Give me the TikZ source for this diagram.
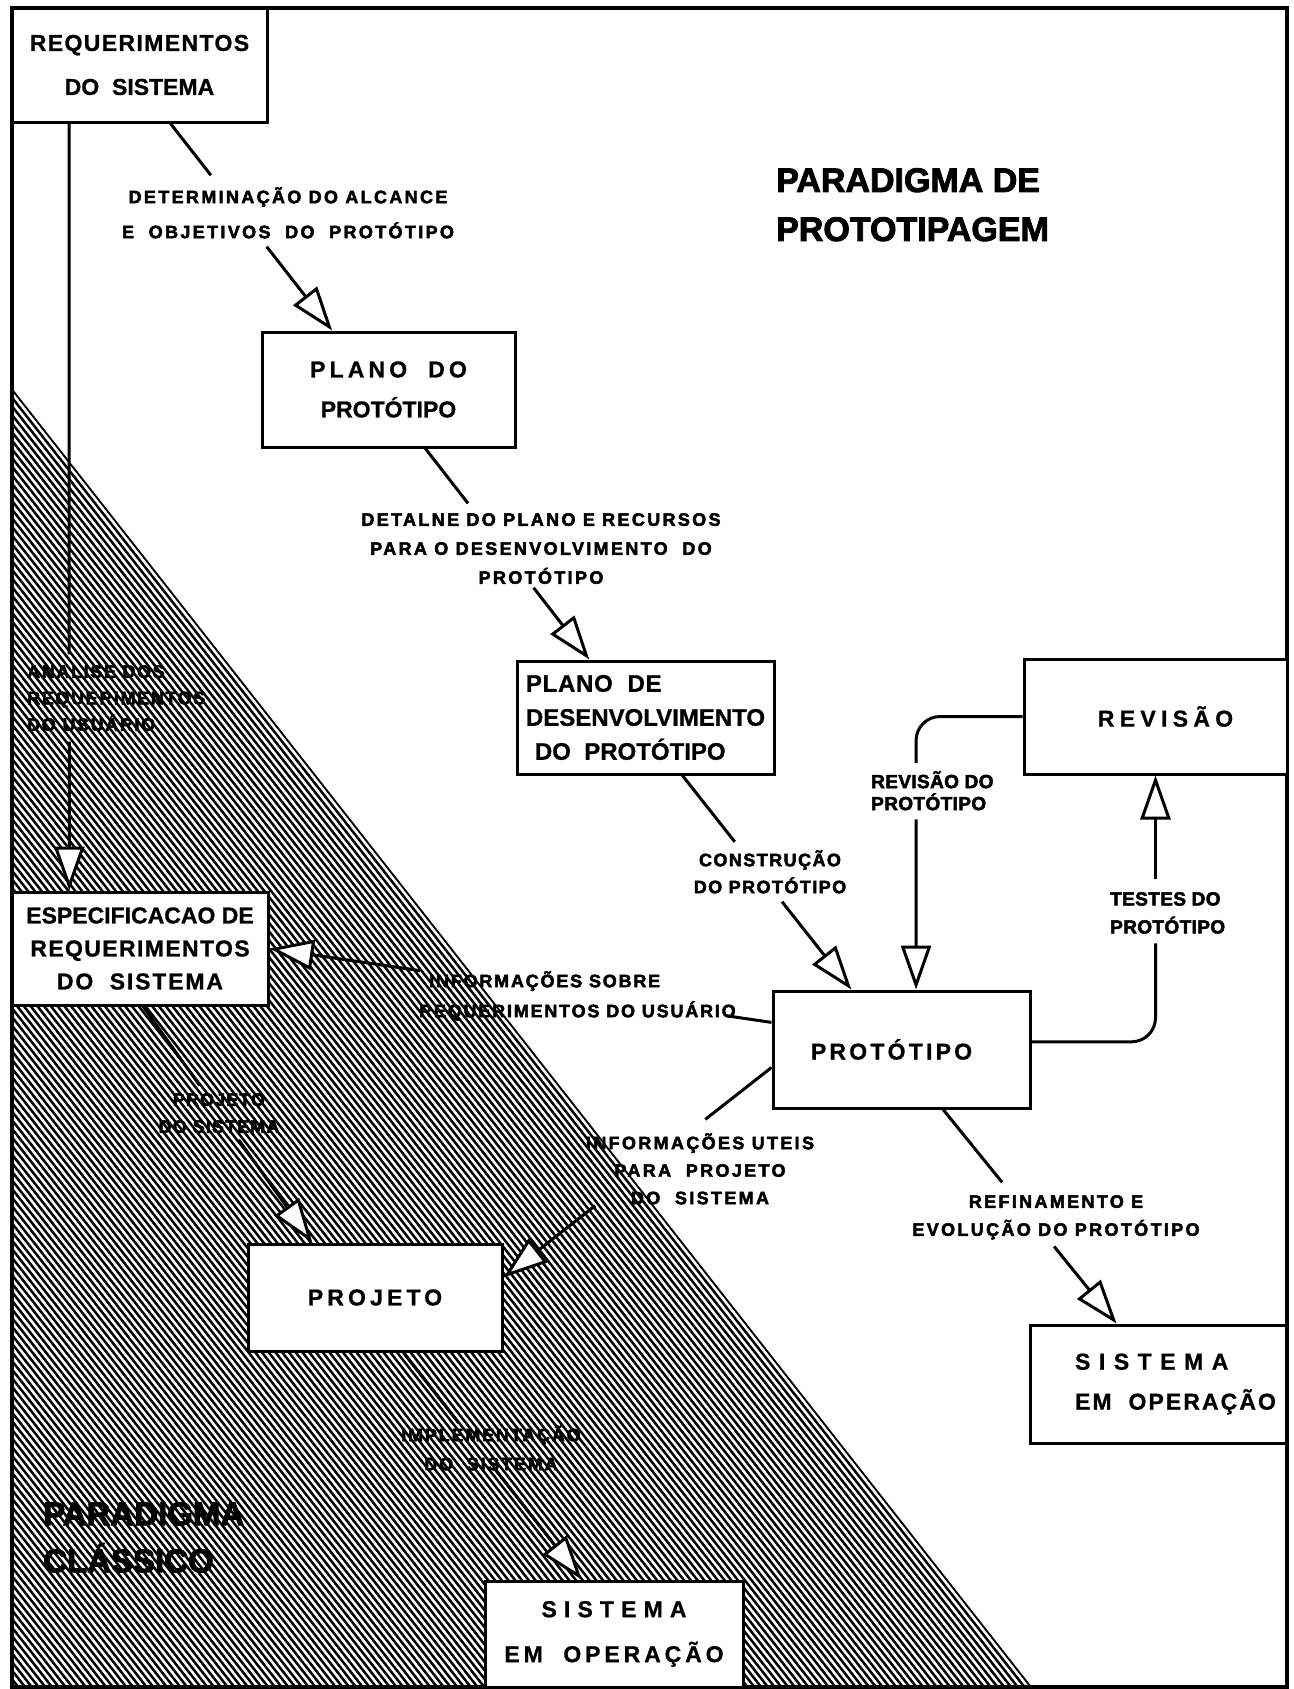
\documentclass[tikz,border=0pt]{standalone}
\usepackage{fontspec}
\setmainfont{Liberation Sans}
\newfontfamily\heavy{Liberation Sans Bold}[FakeBold=2.6]
\newfontfamily\boxfont{Liberation Sans Bold}[FakeBold=0.9]
\usetikzlibrary{arrows.meta,calc}
\newcommand\lsp[1]{\addfontfeature{LetterSpace=#1}}

\begin{document}
\begin{tikzpicture}[x=1pt,y=-1pt,
  box/.style={draw, line width=3pt, fill=white, inner sep=0pt, align=center,
    font=\boxfont\fontsize{23}{#1}\selectfont},
  box/.default=36,
  lbl/.style={inner sep=0pt, align=center,
    font=\heavy\fontsize{18}{#1}\selectfont\lsp{13}},
  lbl/.default=28,
  ttl/.style={inner sep=0pt, align=left, font=\heavy\fontsize{34}{#1}\selectfont},
  conn/.style={line width=3pt},
  arr/.style={-{Triangle[length=44pt,width=30pt,fill=white]}},
  hatchline/.style={line width=2.5pt},
]
\fill[white] (0,0) rectangle (1293,1689);
\useasboundingbox (0,0) rectangle (1293,1689);

% hatched region of the classic paradigm
\begin{scope}
  \clip (12,388) -- (1032,1687) -- (12,1687) -- cycle;
  \foreach \k in {0,...,152}
    \draw[hatchline] (12,389+\k*8.6) -- ++(1100,1400.9);
\end{scope}

% outer frame
\draw[line width=3.5pt] (12,8) rectangle (1287,1687);

% boxes
\node[box=44, minimum width=255pt, minimum height=114pt] (req) at (139.5,65)
  {\lsp{6}REQUERIMENTOS\\DO\ \ SISTEMA};
\node[box=40, minimum width=253pt, minimum height=115pt] (plano) at (388.5,389.5)
  {\lsp{18}PLANO\ \ DO\\PROTÓTIPO};
\node[box, align=left, font=\boxfont\fontsize{24}{34}\selectfont,
  minimum width=257pt, minimum height=113pt] (pdes) at (645.5,717.5)
  {\lsp{3}PLANO\ \ DE\\DESENVOLVIMENTO\\\hspace*{9pt}DO\ \ PROTÓTIPO};
\node[box, minimum width=263pt, minimum height=115pt] (rev) at (1155.5,716.5)
  {\hspace*{20pt}\lsp{23}REVISÃO};
\node[box, minimum width=257pt, minimum height=117pt] (proto) at (901.5,1049.5)
  {\lsp{14}PROTÓTIPO\hspace*{20pt}};
\node[box=40, align=left, minimum width=256pt, minimum height=118pt] (sisR) at (1158,1384)
  {\hspace*{35pt}\lsp{37}SISTEMA\\\hspace*{35pt}\lsp{9}EM\ \ OPERAÇÃO};
\node[box=33, minimum width=256pt, minimum height=113pt] (espec) at (140,948.5)
  {ESPECIFICACAO DE\\\lsp{6}REQUERIMENTOS\\\lsp{8}DO\ \ SISTEMA};
\node[box, minimum width=254pt, minimum height=107pt] (proj) at (375,1297.5)
  {\lsp{18}PROJETO};
\node[box=45, minimum width=258pt, minimum height=106pt] (sisB) at (614,1634)
  {\lsp{31}SISTEMA\\\lsp{17}EM\ \ OPERAÇÃO};

% titles
\node[ttl=49, anchor=north west] (tproto) at (776,168) {PARADIGMA DE\\PROTOTIPAGEM};
\node[ttl=47, anchor=north west, font=\heavy\fontsize{33}{47}\selectfont] (tclass) at (43,1502)
  {PARADIGMA\\CLÁSSICO};

% connector labels
\node[lbl=35, anchor=north] (l1) at (288,187)
  {DETERMINAÇÃO DO ALCANCE\\E\ \ OBJETIVOS\ \ DO\ \ PROTÓTIPO};
\node[lbl=29, anchor=north] (l2) at (541,513)
  {DETALNE DO PLANO E RECURSOS\\PARA O DESENVOLVIMENTO\ \ DO\\PROTÓTIPO};
\node[lbl=27, anchor=north, font=\heavy\fontsize{18}{27}\selectfont\lsp{8}] (l3) at (770,850)
  {CONSTRUÇÃO\\DO PROTÓTIPO};
\node[lbl, anchor=north west, align=left, font=\heavy\fontsize{19}{22}\selectfont\lsp{2}] (l4) at (871,771)
  {REVISÃO DO\\PROTÓTIPO};
\node[lbl, anchor=north west, align=left, font=\heavy\fontsize{19}{28}\selectfont\lsp{2}] (l5) at (1110,892)
  {TESTES DO\\PROTÓTIPO};
\node[lbl, anchor=north west, align=left, font=\heavy\fontsize{18}{30}\selectfont\lsp{10}] (l6) at (419,971)
  {\hspace*{10pt}INFORMAÇÕES SOBRE\\REQUERIMENTOS DO USUÁRIO};
\node[lbl=27.5, anchor=north] (l7) at (700,1133)
  {INFORMAÇÕES UTEIS\\PARA\ \ PROJETO\\DO\ \ SISTEMA};
\node[lbl, anchor=north, font=\heavy\fontsize{18}{27}\selectfont\lsp{6}] (l8) at (219,1093)
  {PROJETO\\DO SISTEMA};
\node[lbl, anchor=north, font=\heavy\fontsize{18}{29}\selectfont\lsp{10}] (l9) at (491,1425)
  {IMPLEMENTAÇÃO\\DO\ \ SISTEMA};
\node[lbl, anchor=north west, align=left, font=\heavy\fontsize{18}{26.5}\selectfont\lsp{9}] (l10) at (27,665)
  {ANALISE DOS\\REQUERIMENTOS\\DO USUÁRIO};
\node[lbl=28, anchor=north] (l11) at (1056,1195)
  {REFINAMENTO E\\EVOLUÇÃO DO PROTÓTIPO};

% end points of the connectors on the box borders
\coordinate (c1s) at ($(req.south west)!0.62!(req.south east)$);
\coordinate (c1e) at ($(plano.north west)!0.28!(plano.north east)$);
\coordinate (c2s) at ($(plano.south west)!0.644!(plano.south east)$);
\coordinate (c2e) at ($(pdes.north west)!0.284!(pdes.north east)$);
\coordinate (c3s) at ($(pdes.south west)!0.642!(pdes.south east)$);
\coordinate (c3e) at ($(proto.north west)!0.307!(proto.north east)$);
\coordinate (c4e) at ($(proto.north west)!0.556!(proto.north east)$);
\coordinate (c4c) at (c4e |- rev.west);
\coordinate (c5s) at ($(proto.north east)!0.436!(proto.south east)$);
\coordinate (c5c) at (rev.south |- c5s);
\coordinate (c6s) at ($(proto.north west)!0.274!(proto.south west)$);
\coordinate (c7s) at ($(proto.north west)!0.65!(proto.south west)$);
\coordinate (c7e) at ($(proj.north east)!0.318!(proj.south east)$);
\coordinate (c8s) at ($(espec.south west)!0.512!(espec.south east)$);
\coordinate (c8e) at ($(proj.north west)!0.256!(proj.north east)$);
\coordinate (c9s) at ($(proj.south west)!0.61!(proj.south east)$);
\coordinate (c9e) at ($(sisB.north west)!0.376!(sisB.north east)$);
\coordinate (c10s) at ($(proto.south west)!0.66!(proto.south east)$);
\coordinate (c10e) at ($(sisR.north west)!0.34!(sisR.north east)$);
\coordinate (c11s) at ($(req.south west)!0.227!(req.south east)$);
\coordinate (c11e) at ($(espec.north west)!0.227!(espec.north east)$);

% connectors, broken where their labels sit
\draw[conn] (c1s) -- ($(c1s)!0.25!(c1e)$);
\draw[conn,arr] ($(c1s)!0.595!(c1e)$) -- (c1e);

\draw[conn] (c2s) -- ($(c2s)!0.26!(c2e)$);
\draw[conn,arr] ($(c2s)!0.66!(c2e)$) -- (c2e);

\draw[conn] (c3s) -- ($(c3s)!0.31!(c3e)$);
\draw[conn,arr] ($(c3s)!0.59!(c3e)$) -- (c3e);

\draw[conn, rounded corners=24pt] (rev.west) -- (c4c) -- ($(c4e)!0.83!(c4c)$);
\draw[conn,arr] ($(c4e)!0.623!(c4c)$) -- (c4e);

\draw[conn, rounded corners=24pt] (c5s) -- (c5c) -- ($(rev.south)!0.63!(c5c)$);
\draw[conn,arr] ($(rev.south)!0.388!(c5c)$) -- (rev.south);

\draw[conn] (c6s) -- ($(c6s)!0.089!(espec.east)$);
\draw[conn,arr] ($(c6s)!0.70!(espec.east)$) -- (espec.east);

\draw[conn] (c7s) -- ($(c7s)!0.247!(c7e)$);
\draw[conn,arr] ($(c7s)!0.658!(c7e)$) -- (c7e);

\draw[conn] (c8s) -- ($(c8s)!0.335!(c8e)$);
\draw[conn,arr] ($(c8s)!0.565!(c8e)$) -- (c8e);

\draw[conn] (c9s) -- ($(c9s)!0.31!(c9e)$);
\draw[conn,arr] ($(c9s)!0.515!(c9e)$) -- (c9e);

\draw[conn] (c10s) -- ($(c10s)!0.34!(c10e)$);
\draw[conn,arr] ($(c10s)!0.64!(c10e)$) -- (c10e);

\draw[conn] (c11s) -- ($(c11s)!0.692!(c11e)$);
\draw[conn,arr] ($(c11s)!0.806!(c11e)$) -- (c11e);
\end{tikzpicture}
\end{document}
